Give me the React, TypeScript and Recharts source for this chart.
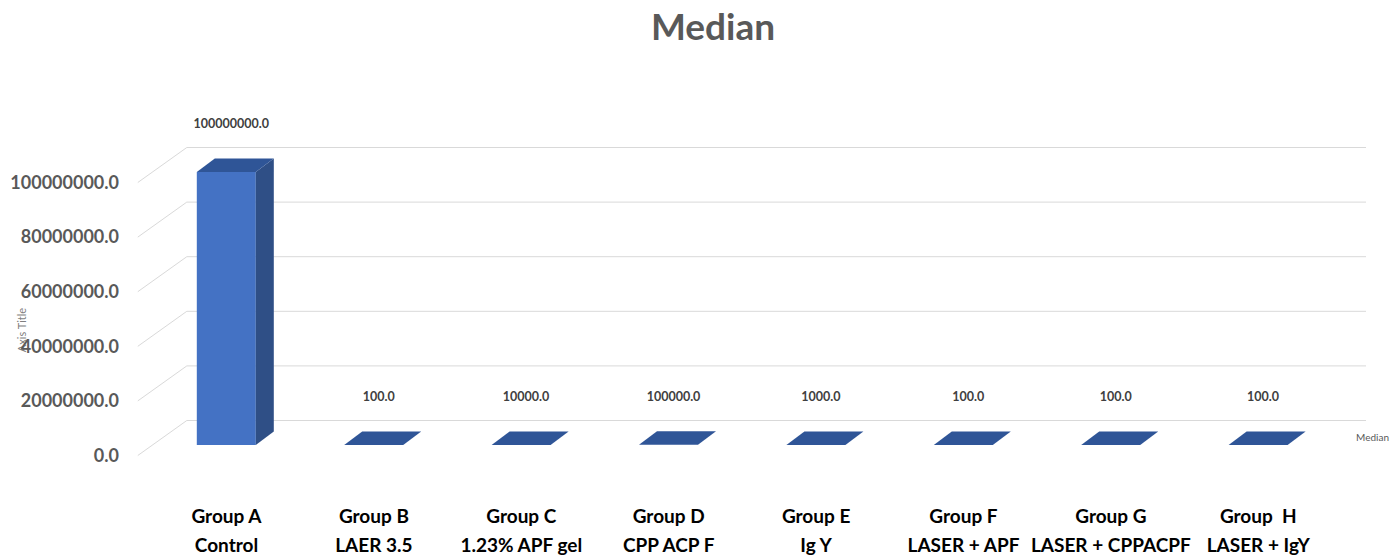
import { BarChart, Bar, XAxis, YAxis, CartesianGrid, LabelList } from 'recharts'

const groups = ['Group A', 'Group B', 'Group C', 'Group D', 'Group E', 'Group F', 'Group G', 'Group  H']
const treatments = ['Control', 'LAER 3.5', '1.23% APF gel', 'CPP ACP F', 'Ig Y', 'LASER + APF', 'LASER + CPPACPF', 'LASER + IgY']
const medians = [100000000, 100, 10000, 100000, 1000, 100, 100, 100]
const yTicks = [0, 20000000, 40000000, 60000000, 80000000, 100000000]

const data = groups.map((g, i) => ({ group: g, treatment: treatments[i], median: medians[i] }))

const FONT = 'Lato, "Open Sans", sans-serif'

// floor / wall depth of the pseudo 3d plot
const FRONT_DX = -15
const FRONT_DY = 10.5
const BACK_DX = 34
const BACK_DY = -24.5

function GridLine(props: any) {
  const { x1, x2, y1 } = props
  const d = `M${x1 + FRONT_DX},${y1 + FRONT_DY} L${x1 + BACK_DX},${y1 + BACK_DY} L${x2 + BACK_DX},${y1 + BACK_DY}`
  return <path key={props.key ?? `g-${props.index}`} d={d} stroke="#d9d9d9" strokeWidth={1} fill="none" />
}

function Bar3D(props: any) {
  const { x, y, width, height } = props
  const dx = 18
  const dy = 13.5
  const h = Math.max(height || 0, 0)
  return (
    <g>
      {h > 0.5 && <rect x={x} y={y} width={width} height={h} fill="#4472c4" />}
      {h > 0.5 && (
        <polygon
          points={`${x + width},${y} ${x + width + dx},${y - dy} ${x + width + dx},${y + h - dy} ${x + width},${y + h}`}
          fill="#2f4f86"
        />
      )}
      <polygon
        points={`${x},${y} ${x + dx},${y - dy} ${x + width + dx},${y - dy} ${x + width},${y}`}
        fill="#2f5597"
      />
    </g>
  )
}

function YTick(props: any) {
  const { y, payload } = props
  return (
    <text x={119} y={y + FRONT_DY} dy="0.35em" textAnchor="end" fill="#595959" fontFamily={FONT} fontWeight={700} fontSize={18}>
      {Number(payload.value).toFixed(1)}
    </text>
  )
}

function XTick(props: any) {
  const { x, index } = props
  return (
    <g>
      <text x={x} y={523} textAnchor="middle" fill="#000" fontFamily={FONT} fontWeight={700} fontSize={19} style={{ whiteSpace: 'pre' }}>
        {groups[index]}
      </text>
      <text x={x} y={552} textAnchor="middle" fill="#000" fontFamily={FONT} fontWeight={700} fontSize={19}>
        {treatments[index]}
      </text>
    </g>
  )
}

function ValueLabel(props: any) {
  const { x, y, width, value } = props
  return (
    <text x={x + width / 2 + 5} y={y - 48} dy="0.35em" textAnchor="middle" fill="#404040" fontFamily={FONT} fontWeight={700} fontSize={12.5}>
      {Number(value).toFixed(1)}
    </text>
  )
}

export default function App() {
  return (
    <div style={{ position: 'absolute', left: 0, top: 0, width: 1397, height: 557, background: '#fff' }}>
      <BarChart
        width={1397}
        height={557}
        data={data}
        margin={{ top: 172, right: 65, bottom: 12, left: 12.8 }}
        barCategoryGap="20%"
      >
        <CartesianGrid vertical={false} horizontal={GridLine} />
        <XAxis dataKey="group" axisLine={false} tickLine={false} height={100} interval={0} tick={XTick} />
        <YAxis
          width={140}
          domain={[0, 100000000]}
          ticks={yTicks}
          axisLine={false}
          tickLine={false}
          tick={YTick}
          label={{
            value: 'Axis Title',
            angle: -90,
            content: () => (
              <text x={26} y={330} transform="rotate(-90 26 330)" textAnchor="middle" fill="#7f7f7f" fontFamily={FONT} fontSize={11}>
                Axis Title
              </text>
            ),
          }}
        />
        <Bar dataKey="median" barSize={59} shape={Bar3D} isAnimationActive={false}>
          <LabelList dataKey="median" content={ValueLabel} />
        </Bar>
        <text x={713} y={27} dy="0.35em" textAnchor="middle" fill="#595959" fontFamily={FONT} fontWeight={700} fontSize={37}>
          Median
        </text>
        <text x={1356} y={437} dy="0.35em" textAnchor="start" fill="#595959" fontFamily={FONT} fontSize={10}>
          Median
        </text>
      </BarChart>
    </div>
  )
}
